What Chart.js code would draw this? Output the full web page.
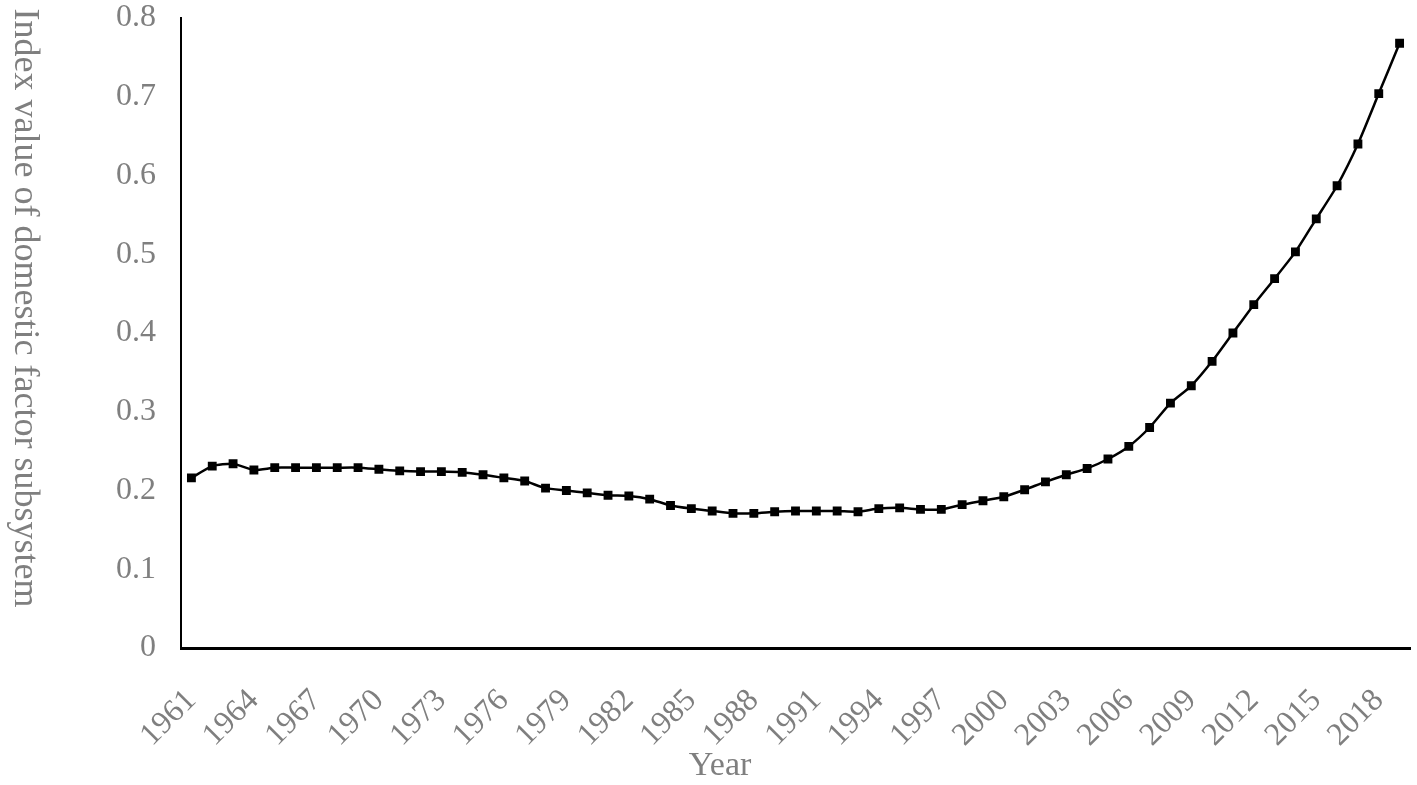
<!DOCTYPE html>
<html>
<head>
<meta charset="utf-8">
<script src="https://cdn.jsdelivr.net/npm/chart.js@4.4.1/dist/chart.umd.min.js"></script>
<style>
  html, body { margin: 0; padding: 0; background: #fff; }
  #wrap { width: 1417px; height: 785px; }
</style>
</head>
<body>
<div id="wrap"><canvas id="lineChart"></canvas></div>
<script>
// =====================
// DATA
// =====================
const years = [
  '1961','1962','1963','1964','1965','1966','1967','1968','1969','1970',
  '1971','1972','1973','1974','1975','1976','1977','1978','1979','1980',
  '1981','1982','1983','1984','1985','1986','1987','1988','1989','1990',
  '1991','1992','1993','1994','1995','1996','1997','1998','1999','2000',
  '2001','2002','2003','2004','2005','2006','2007','2008','2009','2010',
  '2011','2012','2013','2014','2015','2016','2017','2018','2019'
];

const indexValues = [
  0.216, 0.231, 0.234, 0.226, 0.229, 0.229, 0.229, 0.229, 0.229, 0.227,
  0.225, 0.224, 0.224, 0.223, 0.220, 0.216, 0.212, 0.203, 0.200, 0.197,
  0.194, 0.193, 0.189, 0.181, 0.177, 0.174, 0.171, 0.171, 0.173, 0.174,
  0.174, 0.174, 0.173, 0.177, 0.178, 0.176, 0.176, 0.182, 0.187, 0.192,
  0.201, 0.211, 0.220, 0.228, 0.240, 0.256, 0.280, 0.311, 0.333, 0.364,
  0.400, 0.436, 0.469, 0.503, 0.545, 0.587, 0.640, 0.704, 0.768
];

const yTicks = [0, 0.1, 0.2, 0.3, 0.4, 0.5, 0.6, 0.7, 0.8];

const xTitle = 'Year';
const yTitle = 'Index value of domestic factor subsystem';

const serif = "'Liberation Serif', 'Times New Roman', serif";
const tickFont = { family: serif, size: 32, lineHeight: 1.1 };
const gray = '#7f7f7f';

// =====================
// AXIS TITLES
// y title reads top to bottom (rotated clockwise), so draw both by hand
// =====================
const axisTitles = {
  id: 'axisTitles',
  afterDraw(chart) {
    const ctx = chart.ctx;
    ctx.save();
    ctx.fillStyle = gray;
    ctx.textAlign = 'center';
    ctx.textBaseline = 'alphabetic';

    ctx.font = `36px ${serif}`;
    ctx.translate(15, 308);
    ctx.rotate(Math.PI / 2);
    ctx.fillText(yTitle, 0, 0);
    ctx.setTransform(1, 0, 0, 1, 0, 0);

    ctx.font = `34px ${serif}`;
    ctx.fillText(xTitle, 720, 775);
    ctx.restore();
  }
};

// =====================
// CHART
// =====================
const lineChart = new Chart(document.getElementById('lineChart'), {
  type: 'line',
  data: {
    labels: years,
    datasets: [{
      label: 'Index value',
      data: indexValues,
      borderColor: '#000',
      backgroundColor: '#000',
      borderWidth: 2.5,
      pointStyle: 'rect',
      pointRadius: 4.5,
      pointHoverRadius: 4.5,
      tension: 0.2,
      fill: false
    }]
  },
  plugins: [axisTitles],
  options: {
    responsive: true,
    maintainAspectRatio: false,
    animation: false,
    layout: { padding: { top: 18, right: 7, left: 0, bottom: 0 } },
    plugins: {
      legend: { display: false },
      tooltip: { enabled: false }
    },
    scales: {
      x: {
        offset: true,
        grid: { display: false, drawTicks: false },
        border: { color: '#000', width: 3 },
        afterFit: s => { s.height = 137; s.paddingLeft = 0; s.paddingRight = 0; },
        ticks: {
          autoSkip: false,
          minRotation: 45,
          maxRotation: 45,
          padding: 35,
          color: gray,
          font: tickFont,
          callback: (val, i) => (i % 3 === 0 ? years[i] : '')
        }
      },
      y: {
        min: 0,
        max: 0.8,
        afterBuildTicks: axis => { axis.ticks = yTicks.map(v => ({ value: v })); },
        afterFit: s => { s.width = 181; s.paddingTop = 0; s.paddingBottom = 0; },
        grid: { display: false, drawTicks: false },
        border: { color: '#000', width: 2 },
        ticks: {
          padding: 25,
          color: gray,
          font: tickFont,
          callback: v => (v === 0 ? '0' : v.toFixed(1))
        }
      }
    }
  }
});
</script>
</body>
</html>
